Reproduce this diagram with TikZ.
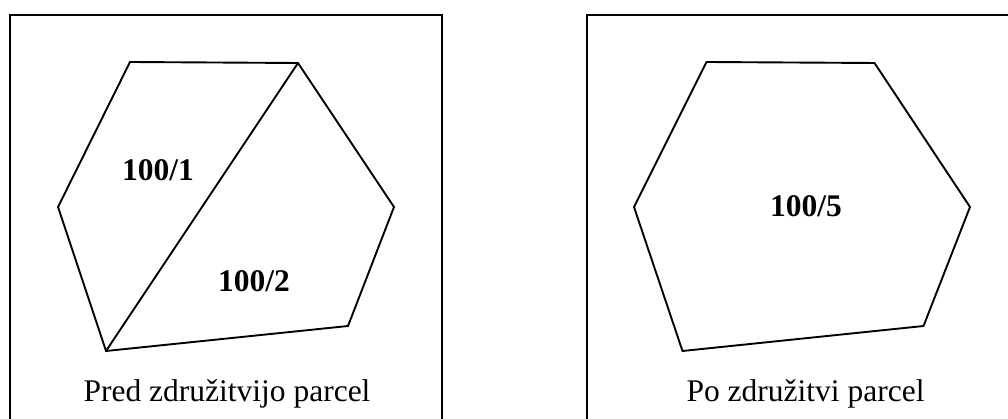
\documentclass[tikz,border=0pt]{standalone}
\usepackage{fontspec}
\setmainfont{Liberation Serif}
\begin{document}
\begin{tikzpicture}[x=1pt,y=-1pt,
  frame/.style={draw=black,line width=2pt},
  parcel/.style={draw=black,line width=1.9pt,line join=miter},
  plabel/.style={font=\fontsize{31.5}{36}\selectfont\bfseries,inner sep=0pt,anchor=base},
  caption/.style={font=\fontsize{31.5}{36}\selectfont,inner sep=0pt,anchor=base}]
  \useasboundingbox (0,0) rectangle (1008,419);
  \clip (0,0) rectangle (1008,419);
  % frames
  \draw[frame] (10,15) rectangle (441.5,440);
  \draw[frame] (586.5,15) rectangle (1018,440);
  % left: two parcels
  \coordinate (a1) at (130,62);
  \coordinate (a2) at (298,63);
  \coordinate (a3) at (394,207);
  \coordinate (a4) at (348,326);
  \coordinate (a5) at (106,351);
  \coordinate (a6) at (58,207);
  \draw[parcel] (a1) -- (a2) -- (a3) -- (a4) -- (a5) -- (a6) -- cycle;
  \draw[parcel] (a5) -- (a2);
  \node[plabel] (l1) at (158,180.7) {100/1};
  \node[plabel] (l2) at (254,291.5) {100/2};
  \node[caption] (c1) at (227,401) {Pred združitvijo parcel};
  % right: merged parcel
  \coordinate (b1) at (706.5,62);
  \coordinate (b2) at (874.5,63);
  \coordinate (b3) at (970,207);
  \coordinate (b4) at (923.5,326);
  \coordinate (b5) at (682.5,351);
  \coordinate (b6) at (634,207);
  \draw[parcel] (b1) -- (b2) -- (b3) -- (b4) -- (b5) -- (b6) -- cycle;
  \node[plabel] (l5) at (806,216.5) {100/5};
  \node[caption] (c2) at (805.5,401) {Po združitvi parcel};
\end{tikzpicture}
\end{document}
